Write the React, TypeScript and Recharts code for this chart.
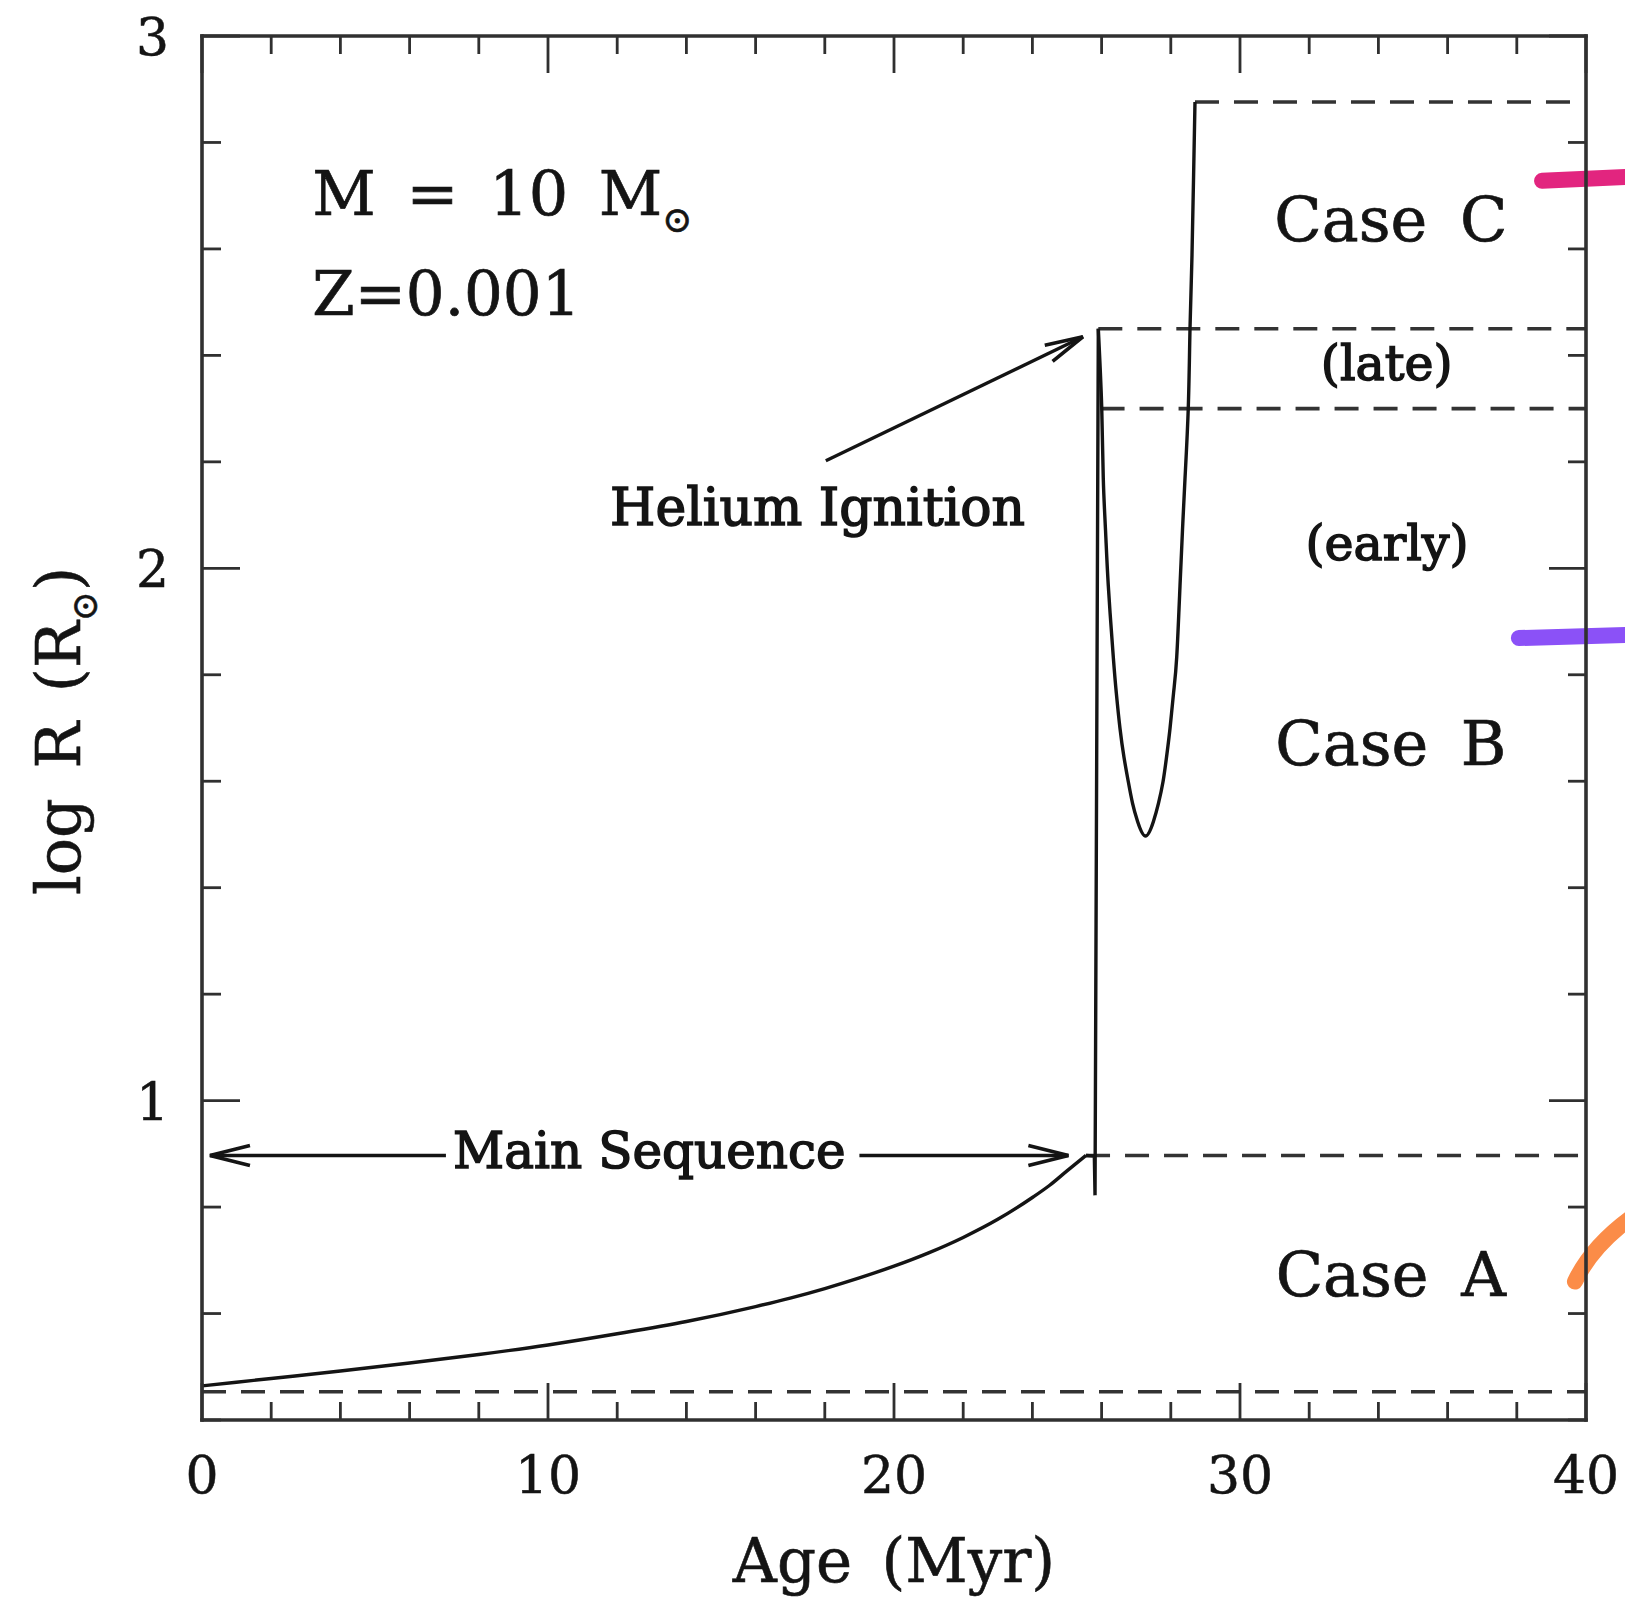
import React from 'react';
import { LineChart, Line, XAxis, YAxis, ReferenceLine, ReferenceDot } from 'recharts';

const FONT = '"DejaVu Serif", serif';
const INK = '#141414';
const FRAME = '#303030';

// 10 Msun, Z=0.001 track: age in Myr, log R in Rsun
const msAge = [0, 2, 4, 6, 8, 10, 12, 14, 16, 17, 18, 19, 20, 21, 22, 23, 24, 24.5, 25, 25.55];
const msLogR = [0.464, 0.478, 0.492, 0.507, 0.523, 0.541, 0.562, 0.585, 0.613, 0.629, 0.647, 0.667, 0.689, 0.714, 0.743, 0.777, 0.818, 0.841, 0.868, 0.897];

// hook at core H exhaustion and the jump up to He ignition
const hookAge = [25.55, 25.79, 25.81, 25.905];
const hookLogR = [0.897, 0.896, 0.822, 2.45];

// loop after He ignition, from the peak down through the minimum and up to the end
const loopAge = [
  25.905, 26.003, 26.049, 26.113, 26.194, 26.338, 26.425, 26.532, 26.647, 26.772, 26.893, 27.038, 27.269,
  27.5, 27.645, 27.775, 27.876, 27.977, 28.08, 28.171, 28.266, 28.338, 28.41, 28.506, 28.555, 28.613, 28.656, 28.699,
];
const loopLogR = [
  2.45, 2.303, 2.168, 2.072, 1.967, 1.833, 1.766, 1.699, 1.645, 1.599, 1.559, 1.525, 1.497,
  1.525, 1.559, 1.599, 1.645, 1.699, 1.766, 1.833, 1.967, 2.072, 2.168, 2.303, 2.45, 2.589, 2.729, 2.876,
];

// dashed boundaries between case A / B (early, late) / C
const boundaryLevel = [0.453, 0.897, 2.3, 2.45, 2.876];
const boundaryFrom = [0, 25.55, 25.97, 25.905, 28.699];
const boundaryTo = 40;

const xTicks = [0, 2, 4, 6, 8, 10, 12, 14, 16, 18, 20, 22, 24, 26, 28, 30, 32, 34, 36, 38, 40];
const yTicks = [0.4, 0.6, 0.8, 1, 1.2, 1.4, 1.6, 1.8, 2, 2.2, 2.4, 2.6, 2.8, 3];

const rows = (ages: number[], vals: number[]) => ages.map((age, i) => ({ age, logR: vals[i] }));

const isMajor = (v: number, step: number) => Math.abs(v / step - Math.round(v / step)) < 1e-6;

const BottomTick = ({ x, y, payload }: any) => {
  const big = isMajor(payload.value, 10);
  return (
    <g>
      <line x1={x} x2={x} y1={y} y2={y - (big ? 37 : 18)} stroke={FRAME} strokeWidth={2.8} />
      {big && (
        <text x={x} y={y + 73} textAnchor="middle" fontFamily={FONT} fontSize={52} fill={INK} stroke={INK} strokeWidth={0.5}>
          {payload.value}
        </text>
      )}
    </g>
  );
};

const TopTick = ({ x, y, payload }: any) => {
  const big = isMajor(payload.value, 10);
  return <line x1={x} x2={x} y1={y} y2={y + (big ? 37 : 18)} stroke={FRAME} strokeWidth={2.8} />;
};

const LeftTick = ({ x, y, payload }: any) => {
  const big = isMajor(payload.value, 1);
  return (
    <g>
      <line x1={x} x2={x + (big ? 38 : 19)} y1={y} y2={y} stroke={FRAME} strokeWidth={2.8} />
      {big && (
        <text x={x - 33} y={y + 19} textAnchor="end" fontFamily={FONT} fontSize={52} fill={INK} stroke={INK} strokeWidth={0.5}>
          {payload.value}
        </text>
      )}
    </g>
  );
};

const RightTick = ({ x, y, payload }: any) => {
  const big = isMajor(payload.value, 1);
  return <line x1={x} x2={x - (big ? 37 : 18)} y1={y} y2={y} stroke={FRAME} strokeWidth={2.8} />;
};

const arrow = (len: number, spread: number) => (p: any) => {
  const { x1, y1, x2, y2 } = p;
  const a = Math.atan2(y2 - y1, x2 - x1);
  const bx = x2 - len * Math.cos(a);
  const by = y2 - len * Math.sin(a);
  const nx = -Math.sin(a) * spread;
  const ny = Math.cos(a) * spread;
  return (
    <g>
      <line x1={x1} y1={y1} x2={x2} y2={y2} stroke={INK} strokeWidth={3.4} />
      <path
        d={`M${bx + nx},${by + ny} L${x2},${y2} L${bx - nx},${by - ny}`}
        fill="none"
        stroke={INK}
        strokeWidth={3.6}
      />
    </g>
  );
};

const label = (text: React.ReactNode, size: number, anchor = 'middle', weight = 0, spacing = 0) => (p: any) => (
  <text
    x={p.cx}
    y={p.cy}
    textAnchor={anchor}
    fontFamily={FONT}
    fontSize={size}
    fill={INK}
    stroke={weight > 0 ? INK : 'none'}
    strokeWidth={weight}
    wordSpacing={spacing}
  >
    {text}
  </text>
);

const highlight = (color: string) => (p: any) => (
  <line x1={p.x1} y1={p.y1} x2={p.x2} y2={p.y2} stroke={color} strokeWidth={16} strokeLinecap="round" />
);

const swoosh = (color: string) => (p: any) => {
  const { x1, y1, x2, y2 } = p;
  const cx = x1 + 0.3 * (x2 - x1);
  const cy = y1 + 0.55 * (y2 - y1);
  return <path d={`M${x1},${y1} Q${cx},${cy} ${x2},${y2}`} fill="none" stroke={color} strokeWidth={16} strokeLinecap="round" />;
};

const XTitle = ({ viewBox }: any) => (
  <text
    x={viewBox.x + viewBox.width / 2}
    y={viewBox.y + 162}
    textAnchor="middle"
    fontFamily={FONT}
    fontSize={61}
    fill={INK}
    stroke={INK}
    strokeWidth={0.6}
    wordSpacing={10}
  >
    Age (Myr)
  </text>
);

const YTitle = ({ viewBox }: any) => {
  const x = viewBox.x + viewBox.width - 122;
  const y = viewBox.y + viewBox.height / 2 + 3;
  return (
    <text
      x={x}
      y={y}
      transform={`rotate(-90 ${x} ${y})`}
      textAnchor="middle"
      fontFamily={FONT}
      fontSize={62}
      fill={INK}
      stroke={INK}
      strokeWidth={0.6}
      wordSpacing={10}
    >
      log R (R
      <tspan fontSize={36} dy={17}>⊙</tspan>
      <tspan dy={-17}>)</tspan>
    </text>
  );
};

const axisLine = { stroke: FRAME, strokeWidth: 3.6, strokeLinecap: 'square' as const };
const track = { stroke: INK, strokeWidth: 3.4, dot: false, isAnimationActive: false };

export default function App() {
  return (
    <div style={{ position: 'absolute', left: 0, top: 0, background: '#fff' }}>
      <LineChart width={1625} height={1599} margin={{ top: 35, right: 38, bottom: 178, left: 201 }}>
        <XAxis
          dataKey="age"
          type="number"
          domain={[0, 40]}
          allowDataOverflow
          ticks={xTicks}
          interval={0}
          height={1}
          tickSize={0}
          tickMargin={0}
          tickLine={false}
          tick={<BottomTick />}
          axisLine={axisLine}
          label={{ content: XTitle }}
        />
        <XAxis
          xAxisId="top"
          orientation="top"
          dataKey="age"
          type="number"
          domain={[0, 40]}
          allowDataOverflow
          ticks={xTicks}
          interval={0}
          height={1}
          tickSize={0}
          tickMargin={0}
          tickLine={false}
          tick={<TopTick />}
          axisLine={axisLine}
        />
        <YAxis
          type="number"
          domain={[0.4, 3]}
          allowDataOverflow
          ticks={yTicks}
          interval={0}
          width={1}
          tickSize={0}
          tickMargin={0}
          tickLine={false}
          tick={<LeftTick />}
          axisLine={axisLine}
          label={{ content: YTitle }}
        />
        <YAxis
          yAxisId="right"
          orientation="right"
          type="number"
          domain={[0.4, 3]}
          allowDataOverflow
          ticks={yTicks}
          interval={0}
          width={1}
          tickSize={0}
          tickMargin={0}
          tickLine={false}
          tick={<RightTick />}
          axisLine={axisLine}
        />

        {boundaryLevel.map((lv, i) => (
          <ReferenceLine
            key={`b${i}`}
            segment={[{ x: boundaryFrom[i], y: lv }, { x: boundaryTo, y: lv }]}
            stroke="#333"
            strokeWidth={3.6}
            strokeDasharray="24 15"
          />
        ))}

        <Line data={rows(msAge, msLogR)} dataKey="logR" type="monotone" {...track} />
        <Line data={rows(hookAge, hookLogR)} dataKey="logR" type="linear" {...track} />
        <Line data={rows(loopAge, loopLogR)} dataKey="logR" type="natural" {...track} />

        {/* Main Sequence double arrow and He ignition pointer */}
        <ReferenceLine segment={[{ x: 7.05, y: 0.897 }, { x: 0.23, y: 0.897 }]} shape={arrow(40, 10)} />
        <ReferenceLine segment={[{ x: 19.0, y: 0.897 }, { x: 25.04, y: 0.897 }]} shape={arrow(40, 10)} />
        <ReferenceLine segment={[{ x: 18.03, y: 2.202 }, { x: 25.46, y: 2.435 }]} shape={arrow(38, 9)} />

        <ReferenceDot x={12.93} y={0.873} r={0} shape={label('Main Sequence', 50, 'middle', 1.5)} />
        <ReferenceDot x={17.79} y={2.081} r={0} shape={label('Helium Ignition', 52, 'middle', 1.5)} />
        <ReferenceDot x={34.36} y={2.615} r={0} shape={label('Case C', 62, 'middle', 0.7, 13)} />
        <ReferenceDot x={34.24} y={2.354} r={0} shape={label('(late)', 49, 'middle', 1.5)} />
        <ReferenceDot x={34.25} y={2.016} r={0} shape={label('(early)', 49, 'middle', 1.5)} />
        <ReferenceDot x={34.36} y={1.63} r={0} shape={label('Case B', 62, 'middle', 0.7, 13)} />
        <ReferenceDot x={34.36} y={0.633} r={0} shape={label('Case A', 62, 'middle', 0.7, 13)} />
        <ReferenceDot
          x={3.19}
          y={2.664}
          r={0}
          shape={label(
            <>
              M = 10 M<tspan fontSize={36} dy={17}>⊙</tspan>
            </>,
            62,
            'start',
            0.7,
            11
          )}
        />
        <ReferenceDot x={3.19} y={2.476} r={0} shape={label('Z=0.001', 61, 'start', 0.7)} />

        {/* coloured marker strokes at the right edge */}
        <ReferenceLine ifOverflow="visible" segment={[{ x: 38.73, y: 2.728 }, { x: 41.4, y: 2.736 }]} shape={highlight('#e2257f')} />
        <ReferenceLine ifOverflow="visible" segment={[{ x: 38.06, y: 1.869 }, { x: 41.4, y: 1.875 }]} shape={highlight('#8b51f7')} />
        <ReferenceLine ifOverflow="visible" segment={[{ x: 39.68, y: 0.66 }, { x: 41.3, y: 0.78 }]} shape={swoosh('#fb8c48')} />
      </LineChart>
    </div>
  );
}
